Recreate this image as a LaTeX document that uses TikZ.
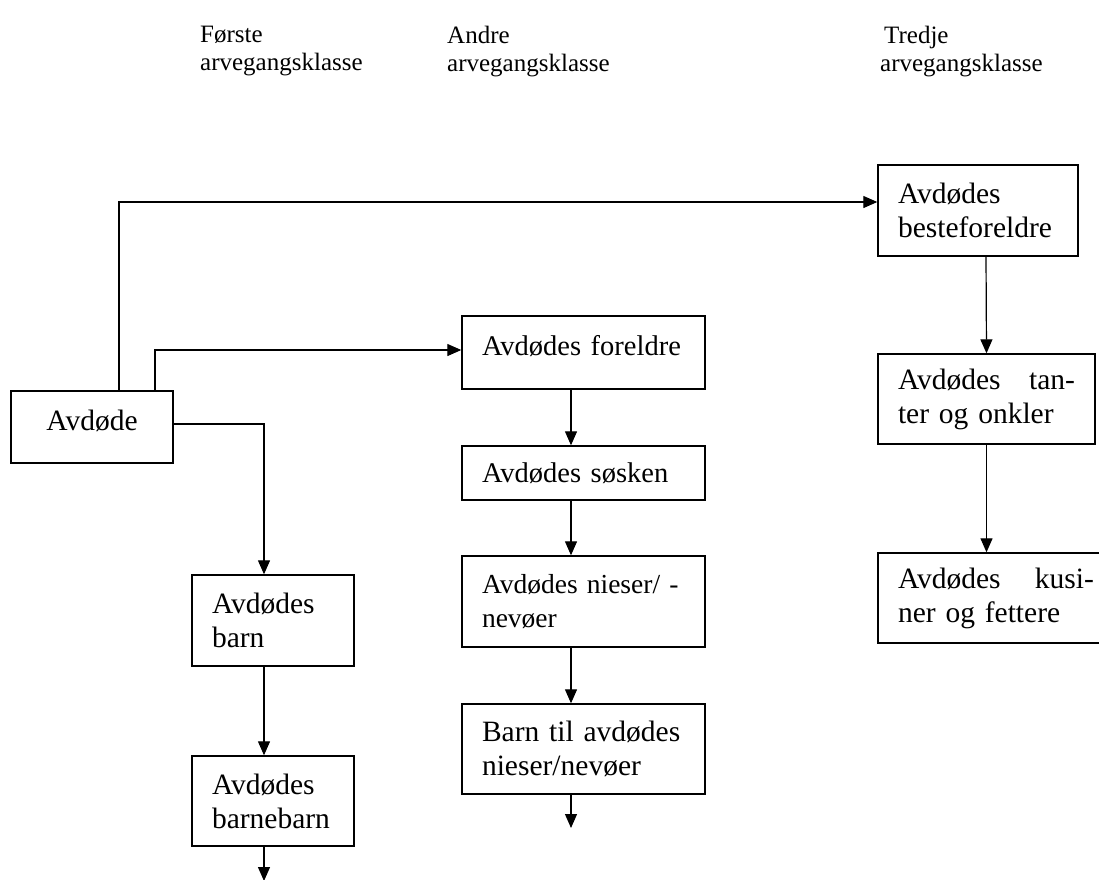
\documentclass[tikz,border=0pt]{standalone}
\usepackage{fontspec}
\setmainfont{Liberation Serif}
\usetikzlibrary{arrows.meta}
\begin{document}
\begin{tikzpicture}[x=1pt,y=-1pt,
  box/.style={draw, line width=1.4pt, inner xsep=20pt, inner ysep=0pt, align=left,
    font=\fontsize{29.5}{34}\selectfont},
  gbox/.style={box, font=\fontsize{28.5}{34}\selectfont},
  conn/.style={line width=1.2pt, -{Triangle[length=14pt,width=12pt]}},
  hdr/.style={anchor=north west, inner sep=0pt, align=left,
    font=\fontsize{25}{28}\selectfont}]
\clip (0,0) rectangle (1099,879);
\fill[white] (0,0) rectangle (1099,879);

% headers
\node[hdr] (h1) at (200,26) {Første\\arvegangsklasse};
\node[hdr] (h2) at (447,26) {Andre\\arvegangsklasse};
\node[hdr] (h3) at (880,26) {\hspace{4pt}Tredje\\arvegangsklasse};

% first class
\node[box, text width=122pt, align=center, minimum height=72pt,
      text height=20pt, text depth=14pt] (avdode) at (92,427) {Avdøde};
\node[box, text width=122pt, minimum height=91pt] (barn) at (273,620.5) {Avdødes\\barn};
\node[box, text width=122pt, minimum height=90pt] (barnebarn) at (273,801) {Avdødes\\barnebarn};

% second class
\node[gbox, text width=203pt, minimum height=73pt,
      text height=20pt, text depth=14pt] (foreldre) at (583.5,352.5) {Avdødes foreldre};
\node[gbox, text width=203pt, minimum height=54pt] (soesken) at (583.5,473) {Avdødes søsken};
\node[gbox, text width=203pt, minimum height=91pt, font=\fontsize{27.5}{34}\selectfont] (nieser) at (583.5,601.5) {\mbox{Avdødes nieser/ -}\\nevøer};
\node[box, text width=203pt, minimum height=90pt] (barntil) at (583.5,749) {Barn til avdødes\\nieser/nevøer};

% third class
\node[box, text width=160pt, minimum height=91pt] (beste) at (978,210.5) {Avdødes\\besteforeldre};
\node[box, text width=177pt, minimum height=90pt] (tanter) at (986.5,399) {Avdødes\hfill tan-\\ter og onkler};
\node[box, text width=196pt, minimum height=90pt] (kusiner) at (996,598) {Avdødes\hfill kusi-\\ner og fettere};

\coordinate (end1) at (264,881);
\coordinate (end2) at (571,828);

% connectors
\draw[conn] ([xshift=27pt]avdode.north) |- ([yshift=8.5pt]beste.west);
\draw[conn] ([xshift=63pt]avdode.north) |- ([yshift=2.5pt]foreldre.west);
\draw[conn] ([yshift=3pt]avdode.east) -| ([xshift=-9pt]barn.north);
\draw[conn] ([xshift=-9pt]barn.south) -- ([xshift=-9pt]barnebarn.north);
\draw[conn] ([xshift=-9pt]barnebarn.south) -- (end1);

\draw[conn] ([xshift=-12.5pt]foreldre.south) -- ([xshift=-12.5pt]soesken.north);
\draw[conn] ([xshift=-12.5pt]soesken.south) -- ([xshift=-12.5pt]nieser.north);
\draw[conn] ([xshift=-12.5pt]nieser.south) -- ([xshift=-12.5pt]barntil.north);
\draw[conn] ([xshift=-12.5pt]barntil.south) -- (end2);

\draw[conn] ([xshift=8pt]beste.south) -- (tanter.north);
\draw[conn] (tanter.south) -- ([xshift=-9.5pt]kusiner.north);
\end{tikzpicture}
\end{document}
